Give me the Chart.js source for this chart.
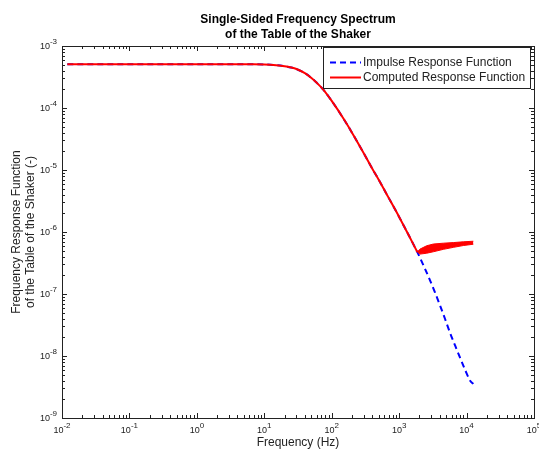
<!DOCTYPE html>
<html>
<head>
<meta charset="utf-8">
<script src="https://cdn.jsdelivr.net/npm/chart.js@4/dist/chart.umd.min.js"></script>
<style>
  body { margin: 0; background: #fff; }
  #wrap { width: 539px; height: 452px; position: relative; }
</style>
</head>
<body>
<div id="wrap"><canvas id="spectrum"></canvas></div>
<script>
// frequencies (Hz) and FRF magnitudes
const freqMain = [0.012, 0.05, 0.2, 1, 3, 6, 10, 15, 20, 25, 30, 40, 50, 60, 75, 100, 150, 200, 300, 400, 500, 700, 1000, 1400, 1860];
const respMain = [5.1e-4, 5.1e-4, 5.1e-4, 5.1e-4, 5.1e-4, 5.08e-4, 5.04e-4, 4.9e-4, 4.72e-4, 4.5e-4, 4.25e-4, 3.65e-4, 3.05e-4, 2.55e-4, 1.98e-4, 1.3e-4, 6.7e-5, 4.0e-5, 1.85e-5, 1.05e-5, 6.9e-6, 3.55e-6, 1.75e-6, 8.7e-7, 4.75e-7];

// impulse response continues downwards after the computed one stops following it
const freqImpulseTail = [2400, 2870, 3400, 4050, 4800, 5700, 6800, 8030, 9500, 11300, 12600];
const respImpulseTail = [2.6e-7, 1.66e-7, 1.06e-7, 6.5e-8, 3.95e-8, 2.35e-8, 1.45e-8, 9.3e-9, 6.0e-9, 4.0e-9, 3.55e-9];

// computed response above ~2 kHz is a noisy band: upper / lower envelope
const freqBand = [1860, 2040, 2560, 3220, 4520, 6360, 8960, 12600];
const bandUpper = [4.75e-7, 5.3e-7, 6.0e-7, 6.4e-7, 6.6e-7, 6.75e-7, 6.95e-7, 7.1e-7];
const bandLower = [4.75e-7, 4.4e-7, 4.55e-7, 4.8e-7, 5.25e-7, 5.65e-7, 6.05e-7, 6.35e-7];

const xDecades = [-2, -1, 0, 1, 2, 3, 4, 5];
const yDecades = [-9, -8, -7, -6, -5, -4, -3];

const titleLines = ['Single-Sided Frequency Spectrum', 'of the Table of the Shaker'];
const xTitle = 'Frequency (Hz)';
const yTitleLines = ['Frequency Response Function', 'of the Table of the Shaker (-)'];
const legendNames = ['Impulse Response Function', 'Computed Response Function'];

const FONT = '"Liberation Sans", Arial, sans-serif';
const BLUE = '#0000ff';
const RED = '#ff0000';

const toPts = (xs, ys) => xs.map((x, i) => ({ x: x, y: ys[i] }));

const impulsePts = toPts(freqMain.concat(freqImpulseTail), respMain.concat(respImpulseTail));
const computedPts = toPts(freqMain, respMain);

// axes frame, inward ticks, 10^n labels, titles and legend box
const matlabAxes = {
    id: 'matlabAxes',
    afterDatasetsDraw(chart) {
        const ctx = chart.ctx;
        const a = chart.chartArea;
        const xs = chart.scales.x;
        const ys = chart.scales.y;
        ctx.save();
        ctx.strokeStyle = '#222';
        ctx.lineWidth = 1;

        // frame
        ctx.strokeRect(Math.round(a.left) + 0.5, Math.round(a.top) + 0.5,
            Math.round(a.right - a.left), Math.round(a.bottom - a.top));

        ctx.beginPath();
        xDecades.forEach((d, k) => {
            const mults = k === xDecades.length - 1 ? [1] : [1, 2, 3, 4, 5, 6, 7, 8, 9];
            mults.forEach(m => {
                const px = Math.round(xs.getPixelForValue(m * Math.pow(10, d))) + 0.5;
                const len = m === 1 ? 5 : 3;
                ctx.moveTo(px, a.bottom); ctx.lineTo(px, a.bottom - len);
                ctx.moveTo(px, a.top); ctx.lineTo(px, a.top + len);
            });
        });
        yDecades.forEach((d, k) => {
            const mults = k === yDecades.length - 1 ? [1] : [1, 2, 3, 4, 5, 6, 7, 8, 9];
            mults.forEach(m => {
                const py = Math.round(ys.getPixelForValue(m * Math.pow(10, d))) + 0.5;
                const len = m === 1 ? 5 : 3;
                ctx.moveTo(a.left, py); ctx.lineTo(a.left + len, py);
                ctx.moveTo(a.right, py); ctx.lineTo(a.right - len, py);
            });
        });
        ctx.stroke();

        // tick labels
        ctx.fillStyle = '#222';
        ctx.textBaseline = 'middle';
        const baseFont = '9px ' + FONT;
        const expFont = '8px ' + FONT;
        xDecades.forEach(d => {
            const px = xs.getPixelForValue(Math.pow(10, d));
            ctx.font = baseFont;
            const wb = ctx.measureText('10').width;
            ctx.font = expFont;
            const we = ctx.measureText(String(d)).width;
            const x0 = px - (wb + we) / 2;
            ctx.textAlign = 'left';
            ctx.font = baseFont;
            ctx.fillText('10', x0, a.bottom + 13);
            ctx.font = expFont;
            ctx.fillText(String(d), x0 + wb, a.bottom + 8);
        });
        yDecades.forEach(d => {
            const py = ys.getPixelForValue(Math.pow(10, d));
            ctx.font = expFont;
            const we = ctx.measureText(String(d)).width;
            ctx.font = baseFont;
            const wb = ctx.measureText('10').width;
            const x1 = a.left - 5;
            ctx.textAlign = 'left';
            ctx.font = baseFont;
            ctx.fillText('10', x1 - we - wb, py + 0.5);
            ctx.font = expFont;
            ctx.fillText(String(d), x1 - we, py - 4);
        });

        // titles
        const cx = (a.left + a.right) / 2;
        ctx.textAlign = 'center';
        ctx.fillStyle = '#000';
        ctx.font = 'bold 12px ' + FONT;
        ctx.fillText(titleLines[0], cx, 20);
        ctx.fillText(titleLines[1], cx, 34.5);
        ctx.font = '12px ' + FONT;
        ctx.fillStyle = '#222';
        ctx.fillText(xTitle, cx, 443);
        ctx.save();
        ctx.translate(0, (a.top + a.bottom) / 2);
        ctx.rotate(-Math.PI / 2);
        ctx.fillText(yTitleLines[0], 0, 17);
        ctx.fillText(yTitleLines[1], 0, 31);
        ctx.restore();

        // legend box
        const lx = 323, ly = 47, lw = 207, lh = 41;
        ctx.fillStyle = '#fff';
        ctx.fillRect(lx, ly, lw, lh);
        ctx.strokeStyle = '#222';
        ctx.strokeRect(lx + 0.5, ly + 0.5, lw, lh);
        ctx.lineWidth = 2;
        ctx.strokeStyle = BLUE;
        ctx.setLineDash([6, 4]);
        ctx.beginPath(); ctx.moveTo(330, 62.5); ctx.lineTo(361, 62.5); ctx.stroke();
        ctx.setLineDash([]);
        ctx.strokeStyle = RED;
        ctx.beginPath(); ctx.moveTo(330, 77.5); ctx.lineTo(361, 77.5); ctx.stroke();
        ctx.fillStyle = '#222';
        ctx.textAlign = 'left';
        ctx.font = '12px ' + FONT;
        ctx.fillText(legendNames[0], 363, 63);
        ctx.fillText(legendNames[1], 363, 78);
        ctx.restore();
    }
};

new Chart(document.getElementById('spectrum'), {
    type: 'line',
    data: {
        datasets: [
            {
                label: legendNames[0],
                data: impulsePts,
                borderColor: BLUE,
                borderWidth: 2,
                borderDash: [6, 4],
                pointRadius: 0,
                cubicInterpolationMode: 'monotone',
                fill: false,
                order: 2
            },
            {
                label: legendNames[1],
                data: computedPts,
                borderColor: RED,
                borderWidth: 2,
                pointRadius: 0,
                cubicInterpolationMode: 'monotone',
                fill: false,
                order: 1
            },
            {
                label: 'band upper',
                data: toPts(freqBand, bandUpper),
                borderColor: RED,
                borderWidth: 1,
                pointRadius: 0,
                fill: false,
                order: 1
            },
            {
                label: 'band lower',
                data: toPts(freqBand, bandLower),
                borderColor: RED,
                backgroundColor: RED,
                borderWidth: 1,
                pointRadius: 0,
                fill: '-1',
                order: 1
            }
        ]
    },
    options: {
        responsive: true,
        maintainAspectRatio: false,
        animation: false,
        layout: { padding: { left: 62, right: 5, top: 46, bottom: 34 } },
        scales: {
            x: { type: 'logarithmic', min: 0.01, max: 1e5, display: false },
            y: { type: 'logarithmic', min: 1e-9, max: 1e-3, display: false }
        },
        plugins: {
            legend: { display: false },
            tooltip: { enabled: false }
        }
    },
    plugins: [matlabAxes]
});
</script>
</body>
</html>
